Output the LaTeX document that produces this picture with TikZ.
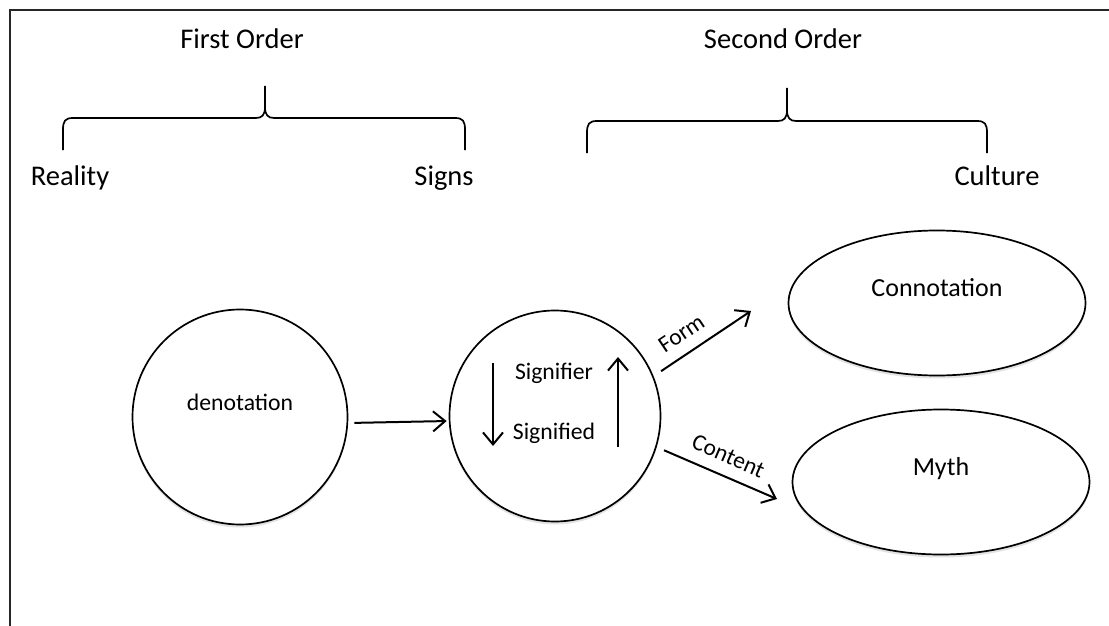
\documentclass[tikz,border=0pt]{standalone}
\usepackage{fontspec}
\setmainfont{Carlito}
\usetikzlibrary{arrows.meta,shapes.geometric,shadows}

\begin{document}
\begin{tikzpicture}[x=1pt,y=-1pt,line width=1.7pt,
    >={Straight Barb[length=12pt,width=20pt]},
    order label/.style={anchor=base,font=\fontsize{28.5}{34}\selectfont},
    soft shadow/.style={drop shadow={shadow xshift=0pt,shadow yshift=-3pt,opacity=0.22}},
    circ node/.style={circle,draw,fill=white,minimum size=215pt,inner sep=0pt,soft shadow,
        font=\fontsize{23.7}{28}\selectfont},
    oval node/.style={ellipse,draw,fill=white,minimum width=297pt,minimum height=145pt,inner sep=0pt,soft shadow,
        font=\fontsize{26}{31}\selectfont},
    lifted/.style={text height=17pt,text depth=31pt},
    sign label/.style={anchor=base,font=\fontsize{23.7}{28}\selectfont},
    link/.style={->,line width=2pt},
    arrow label/.style={font=\fontsize{23.5}{28}\selectfont}]
    \useasboundingbox (0,0) rectangle (1109,626);
    \draw[line width=1.2pt,black!85] (1109,10) -- (10,10) -- (10,626);

    % headings and braces
    \node[order label] at (242,49) (first) {First Order};
    \node[order label] at (783,49) (second) {Second Order};
    \node[order label] at (70,185) (reality) {Reality};
    \node[order label] at (444,185) (signs) {Signs};
    \node[order label] at (997,185) (culture) {Culture};

    \draw (63,150) -- (63,130) .. controls (63,121) and (65,118) .. (73,118) -- (256,118)
        .. controls (262,118) and (265,115) .. (265,107) -- (265,86)
        (265,107) .. controls (265,115) and (268,118) .. (274,118) -- (455,118)
        .. controls (463,118) and (465,121) .. (465,130) -- (465,150);
    \draw (587,153) -- (587,133) .. controls (587,124) and (589,121) .. (597,121) -- (778,121)
        .. controls (784,121) and (787,118) .. (787,110) -- (787,88)
        (787,110) .. controls (787,118) and (790,121) .. (796,121) -- (977,121)
        .. controls (985,121) and (987,124) .. (987,133) -- (987,153);

    % shapes
    \node[circ node,lifted] at (240,417) (deno) {denotation};
    \node[circ node,minimum size=211pt] at (555,416) (sign) {};
    \node[sign label] at (554,379) (sfr) {Signifier};
    \node[sign label] at (554,439) (sfd) {Signified};
    \node[oval node,lifted] at (937,303) (conn) {Connotation};
    \node[oval node,lifted] at (941,482) (myth) {Myth};

    \coordinate (downtop) at (493,363);
    \coordinate (downend) at (493,446);
    \coordinate (upstart) at (618,447);
    \coordinate (uptip) at (618,357);
    \coordinate (formtip) at (751,311);
    \coordinate (contenttip) at (777,499);

    \path[link]
        ([yshift=-6pt]deno.east) edge[shorten <=6pt,shorten >=2pt] ([yshift=-5pt]sign.west)
        (downtop) edge (downend)
        (upstart) edge (uptip)
        (sign.22) edge[shorten <=9pt] node[arrow label,sloped,above=8pt,pos=0.4] {Form} (formtip)
        (sign.-17) edge[shorten <=8pt] node[arrow label,sloped,above=8pt,pos=0.53] {Content} (contenttip)
        ;
\end{tikzpicture}
\end{document}
